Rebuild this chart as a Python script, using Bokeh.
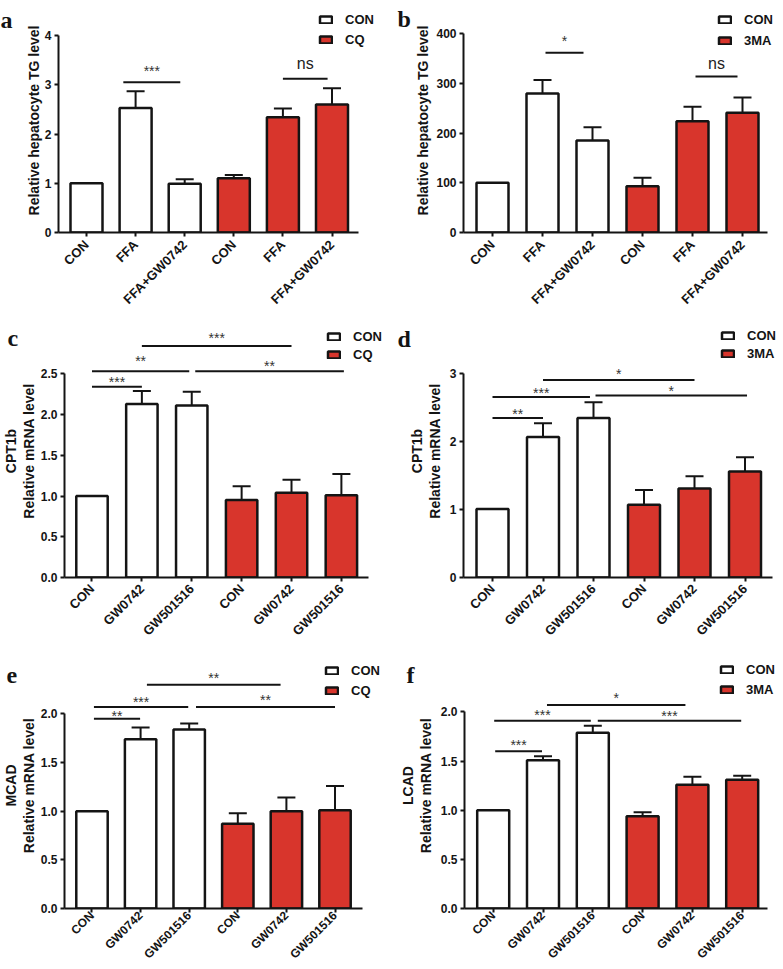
import math
from bokeh.plotting import figure
from bokeh.models import Range1d, FixedTicker, Legend, LegendItem, Title, Whisker, ColumnDataSource, TeeHead
from bokeh.layouts import row, column
from bokeh.embed import file_html
from bokeh.resources import INLINE
from bokeh.core.properties import value

# ---------------- data ----------------
tg_groups = ["CON", "FFA", "FFA+GW0742", "CON", "FFA", "FFA+GW0742"]
mrna_groups = ["CON", "GW0742", "GW501516", "CON", "GW0742", "GW501516"]

a_mean = [1.00, 2.53, 0.99, 1.10, 2.34, 2.60]
a_err = [0.00, 0.34, 0.09, 0.07, 0.18, 0.33]
b_mean = [100, 280, 185, 93, 224, 241]
b_err = [0, 27, 27, 17, 29, 31]
c_mean = [1.00, 2.13, 2.11, 0.95, 1.04, 1.01]
c_err = [0.00, 0.16, 0.17, 0.17, 0.16, 0.26]
d_mean = [1.01, 2.07, 2.35, 1.07, 1.31, 1.56]
d_err = [0.00, 0.20, 0.23, 0.22, 0.18, 0.21]
e_mean = [1.00, 1.74, 1.84, 0.87, 1.00, 1.01]
e_err = [0.00, 0.12, 0.06, 0.11, 0.14, 0.25]
f_mean = [1.00, 1.51, 1.79, 0.94, 1.26, 1.31]
f_err = [0.00, 0.04, 0.07, 0.04, 0.08, 0.04]

a_yticks = [0, 1, 2, 3, 4]
a_ylabels = ["0", "1", "2", "3", "4"]
b_yticks = [0, 100, 200, 300, 400]
b_ylabels = ["0", "100", "200", "300", "400"]
c_yticks = [0, 0.5, 1.0, 1.5, 2.0, 2.5]
c_ylabels = ["0.0", "0.5", "1.0", "1.5", "2.0", "2.5"]
d_yticks = [0, 1, 2, 3]
d_ylabels = ["0", "1", "2", "3"]
ef_yticks = [0, 0.5, 1.0, 1.5, 2.0]
ef_ylabels = ["0.0", "0.5", "1.0", "1.5", "2.0"]

legend_cq = ["CON", "CQ"]
legend_3ma = ["CON", "3MA"]

# significance brackets: start group, end group, bracket height, label, label height
a_sig_x0 = [0.75, 4.00]
a_sig_x1 = [1.91, 4.91]
a_sig_y = [3.05, 3.12]
a_sig_text = ["***", "ns"]
a_sig_ty = [3.35, 3.43]

b_sig_x0 = [1.06, 4.06]
b_sig_x1 = [1.82, 4.90]
b_sig_y = [362, 314]
b_sig_text = ["*", "ns"]
b_sig_ty = [391, 340]

c_sig_x0 = [0.0, 0.0, 1.0, 2.07]
c_sig_x1 = [1.0, 1.95, 4.0, 5.05]
c_sig_y = [2.34, 2.53, 2.84, 2.53]
c_sig_text = ["***", "**", "***", "**"]
c_sig_ty = [2.44, 2.70, 2.98, 2.63]

d_sig_x0 = [0.0, 0.0, 1.0, 2.04]
d_sig_x1 = [1.0, 1.93, 4.0, 5.04]
d_sig_y = [2.35, 2.66, 2.91, 2.68]
d_sig_text = ["**", "***", "*", "*"]
d_sig_ty = [2.45, 2.76, 3.04, 2.79]

e_sig_x0 = [0.04, 0.04, 1.13, 2.14]
e_sig_x1 = [0.99, 1.98, 3.88, 5.00]
e_sig_y = [1.95, 2.07, 2.30, 2.07]
e_sig_text = ["**", "***", "**", "**"]
e_sig_ty = [2.01, 2.15, 2.40, 2.17]

f_sig_x0 = [0.04, 0.02, 1.08, 2.10]
f_sig_x1 = [0.98, 1.96, 3.86, 4.98]
f_sig_y = [1.60, 1.91, 2.07, 1.91]
f_sig_text = ["***", "***", "*", "***"]
f_sig_ty = [1.69, 2.00, 2.17, 1.99]

# ---------------- style ----------------
FONT = "Liberation Sans"
SERIF = "Liberation Serif"
RED = "#d8352c"
INK = "#141414"


def make_panel(letter, cats, means, errs, yticks, ylabels, ylabel, legend_names,
               sx0, sx1, sy, stext, sty, L):
    fx, fy, fw, fh = L["fig"]
    mt = L["mt"]
    mb_left = int(round(L["ax_left"] - fx))
    mb_right = 1
    mb_bottom = int(round(fy + fh - L["y0"]))
    left = fx + mb_left
    right = fx + fw - mb_right
    top = fy + mt
    bottom = fy + fh - mb_bottom
    k = (L["y0"] - L["ytop_px"]) / yticks[-1]
    sp = L["spacing"]
    t0 = L["tick0"]
    xr = Range1d((left - t0) / sp, (right - t0) / sp)
    yr = Range1d(0, (bottom - top) / k)
    p = figure(width=fw, height=fh, x_range=xr, y_range=yr, output_backend="svg",
               toolbar_location=None, title=None,
               min_border_left=mb_left, min_border_right=mb_right,
               min_border_top=mt, min_border_bottom=mb_bottom)
    p.outline_line_color = None
    p.xgrid.visible = False
    p.ygrid.visible = False
    p.background_fill_color = "white"
    p.border_fill_color = "white"

    idx = list(range(len(cats)))
    w = L["bar_px"] / sp
    r1 = p.vbar(x=idx[:3], top=means[:3], bottom=0, width=w, fill_color="white",
                line_color=INK, line_width=2.5)
    r2 = p.vbar(x=idx[3:], top=means[3:], bottom=0, width=w, fill_color=RED,
                line_color=INK, line_width=2.5)

    ex = [i for i, e in enumerate(errs) if e > 0]
    src = ColumnDataSource(dict(base=ex, lower=[means[i] for i in ex],
                                upper=[means[i] + errs[i] for i in ex]))
    wh = Whisker(source=src, base="base", lower="lower", upper="upper",
                 line_color=INK, line_width=2,
                 upper_head=TeeHead(size=L["cap_px"], line_color=INK, line_width=2),
                 lower_head=None)
    p.add_layout(wh)

    # significance brackets
    p.segment(x0=sx0, y0=sy, x1=sx1, y1=sy, line_color=INK, line_width=2)
    mids = [(a + b) / 2 for a, b in zip(sx0, sx1)]
    star_i = [i for i, t in enumerate(stext) if t != "ns"]
    ns_i = [i for i, t in enumerate(stext) if t == "ns"]
    if star_i:
        p.text(x=[mids[i] for i in star_i], y=[sty[i] for i in star_i],
               text=[stext[i] for i in star_i], text_align="center", text_baseline="middle",
               text_font=value(FONT), text_font_size="14px", text_color="#333333", y_offset=3)
    if ns_i:
        p.text(x=[mids[i] for i in ns_i], y=[sty[i] for i in ns_i],
               text=[stext[i] for i in ns_i], text_align="center", text_baseline="middle",
               text_font=value(FONT), text_font_size="16px", text_color="#222222")

    # axes
    xa = p.xaxis[0]
    ya = p.yaxis[0]
    xa.ticker = FixedTicker(ticks=idx)
    xa.major_label_overrides = {i: c for i, c in zip(idx, cats)}
    xa.bounds = (xr.start, (L["ax_right"] - t0) / sp)
    xa.major_label_orientation = math.pi / 4
    xa.major_label_text_font_size = L["xfont"]
    xa.major_label_text_line_height = 0.9
    xa.major_label_standoff = L["xstandoff"]
    ya.ticker = FixedTicker(ticks=yticks)
    ya.major_label_overrides = {t: s for t, s in zip(yticks, ylabels)}
    ya.bounds = (0, yticks[-1])
    ya.major_label_text_font_size = "12px"
    ya.major_label_standoff = 3
    ya.axis_label = ylabel
    ya.axis_label_text_font = FONT
    ya.axis_label_text_font_style = "bold"
    ya.axis_label_text_font_size = "14px"
    ya.axis_label_text_line_height = 1.1
    ya.axis_label_text_color = INK
    ya.axis_label_standoff = L["lab_standoff"]
    for ax in (xa, ya):
        ax.axis_line_width = 2
        ax.axis_line_color = INK
        ax.major_tick_line_width = 2
        ax.major_tick_line_color = INK
        ax.major_tick_out = 4
        ax.major_tick_in = 0
        ax.minor_tick_line_color = None
        ax.major_label_text_font = FONT
        ax.major_label_text_font_style = "bold"
        ax.major_label_text_color = INK

    # legend
    lab_h = 18
    gap = int(round(L["leg_pitch"] - lab_h))
    T = max(top + 2, L["leg_c1"] - lab_h / 2)
    H = 2 * lab_h + gap
    leg = Legend(items=[LegendItem(label=legend_names[0], renderers=[r1]),
                        LegendItem(label=legend_names[1], renderers=[r2])],
                 location=(L["leg_x"] - left, bottom - (T + H)),
                 glyph_width=15, glyph_height=9, label_standoff=12, label_height=lab_h,
                 spacing=gap, padding=0, margin=0, border_line_color=None,
                 background_fill_alpha=0, label_text_font=FONT, label_text_font_style="bold",
                 label_text_font_size="13px", label_text_color=INK)
    p.add_layout(leg)

    # panel letter as a title that hangs down into the top border
    lx, lby = L["letter"]
    box_bottom = lby + 6
    S = int(round(2 * (box_bottom - top)))
    ttl = Title(text="\n" + letter, align="left", vertical_align="bottom",
                offset=lx - left, standoff=-S, text_font=SERIF, text_font_style="bold",
                text_font_size="24px", text_line_height=1.0, text_color=INK)
    p.add_layout(ttl, "above")
    return p


LA = dict(fig=(0, 0, 390, 316), mt=8, ax_left=58, y0=232, ytop_px=35, tick0=86, spacing=49.1,
          ax_right=358, bar_px=32, cap_px=18, leg_x=318, leg_c1=17.5, leg_pitch=20,
          letter=(0, 26), lab_standoff=0, xfont="13px", xstandoff=6)
LB = dict(fig=(390, 0, 393, 316), mt=8, ax_left=463, y0=232, ytop_px=33.3, tick0=492, spacing=50,
          ax_right=767, bar_px=32, cap_px=18, leg_x=717, leg_c1=6, leg_pitch=21,
          letter=(397, 25), lab_standoff=2, xfont="13px", xstandoff=6)
LC = dict(fig=(0, 316, 390, 330), mt=8, ax_left=58, y0=577, ytop_px=373.3, tick0=86, spacing=50.8,
          ax_right=368, bar_px=32, cap_px=18, leg_x=320, leg_c1=336, leg_pitch=18,
          letter=(1, 344), lab_standoff=1, xfont="13px", xstandoff=5)
LD = dict(fig=(390, 316, 393, 330), mt=8, ax_left=463, y0=577, ytop_px=373.3, tick0=492, spacing=50.5,
          ax_right=772, bar_px=32, cap_px=18, leg_x=720, leg_c1=335, leg_pitch=18.5,
          letter=(397, 345), lab_standoff=4, xfont="13px", xstandoff=5)
LE = dict(fig=(0, 646, 390, 323), mt=16, ax_left=58, y0=911, ytop_px=714, tick0=86, spacing=49.5,
          ax_right=362, bar_px=32, cap_px=18, leg_x=318, leg_c1=673, leg_pitch=20,
          letter=(0, 681), lab_standoff=1, xfont="12px", xstandoff=1)
LF = dict(fig=(390, 646, 393, 323), mt=16, ax_left=464, y0=912, ytop_px=712.3, tick0=492.7, spacing=49.8,
          ax_right=767, bar_px=32, cap_px=18, leg_x=719, leg_c1=673, leg_pitch=20,
          letter=(406, 681), lab_standoff=4, xfont="12px", xstandoff=1)

pa = make_panel("a", tg_groups, a_mean, a_err, a_yticks, a_ylabels, "Relative hepatocyte TG level",
                legend_cq, a_sig_x0, a_sig_x1, a_sig_y, a_sig_text, a_sig_ty, LA)
pb = make_panel("b", tg_groups, b_mean, b_err, b_yticks, b_ylabels, "Relative hepatocyte TG level",
                legend_3ma, b_sig_x0, b_sig_x1, b_sig_y, b_sig_text, b_sig_ty, LB)
pc = make_panel("c", mrna_groups, c_mean, c_err, c_yticks, c_ylabels, "CPT1b\nRelative mRNA level",
                legend_cq, c_sig_x0, c_sig_x1, c_sig_y, c_sig_text, c_sig_ty, LC)
pd = make_panel("d", mrna_groups, d_mean, d_err, d_yticks, d_ylabels, "CPT1b\nRelative mRNA level",
                legend_3ma, d_sig_x0, d_sig_x1, d_sig_y, d_sig_text, d_sig_ty, LD)
pe = make_panel("e", mrna_groups, e_mean, e_err, ef_yticks, ef_ylabels, "MCAD\nRelative mRNA level",
                legend_cq, e_sig_x0, e_sig_x1, e_sig_y, e_sig_text, e_sig_ty, LE)
pf = make_panel("f", mrna_groups, f_mean, f_err, ef_yticks, ef_ylabels, "LCAD\nRelative mRNA level",
                legend_3ma, f_sig_x0, f_sig_x1, f_sig_y, f_sig_text, f_sig_ty, LF)

layout = column(row(pa, pb), row(pc, pd), row(pe, pf))
open("out.html", "w").write(file_html(layout, INLINE))
